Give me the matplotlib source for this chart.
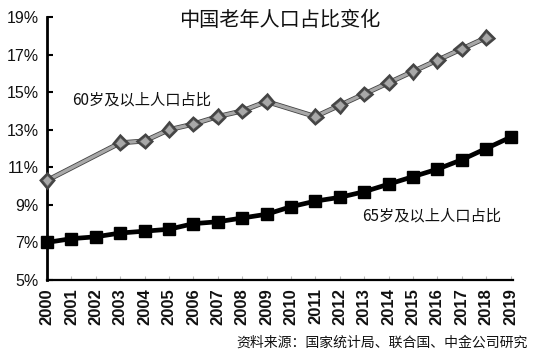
import numpy as np
import matplotlib
matplotlib.use("Agg")
import matplotlib.pyplot as plt
import matplotlib.patheffects as pe

years = list(range(2000, 2020))
share_60 = [10.3, np.nan, np.nan, 12.3, 12.4, 13.0, 13.3, 13.7, 14.0, 14.5,
            np.nan, 13.7, 14.3, 14.9, 15.5, 16.1, 16.7, 17.3, 17.9, np.nan]
share_65 = [7.0, 7.2, 7.3, 7.5, 7.6, 7.7, 8.0, 8.1, 8.3, 8.5,
            8.9, 9.2, 9.4, 9.7, 10.1, 10.5, 10.9, 11.4, 12.0, 12.6]
yticks = [5, 7, 9, 11, 13, 15, 17, 19]
title = "中国老年人口占比变化"
label_60 = "60岁及以上人口占比"
label_65 = "65岁及以上人口占比"
source = "资料来源：国家统计局、联合国、中金公司研究"

plt.rcParams['font.family'] = ['Liberation Sans', 'Noto Sans CJK SC', 'DejaVu Sans']
cjk = ['Noto Sans CJK SC', 'DejaVu Sans']

fig = plt.figure(figsize=(5.35, 3.6), dpi=100)
ax = fig.add_axes([47/535, 1-280/360, (513-47)/535, (280-17)/360])

x60 = [y for y, v in zip(years, share_60) if not np.isnan(v)]
v60 = [v for v in share_60 if not np.isnan(v)]
ax.plot(x60, v60, color='#a8a8a8', lw=2.4, marker='D', ms=5.5,
        mfc='#a8a8a8', mec='#555555', mew=0.6, zorder=3, clip_on=False,
        path_effects=[pe.Stroke(linewidth=3.6, foreground='#444444'), pe.Normal()])
ax.plot(years, share_65, color='black', lw=3.4, marker='s', ms=8.5,
        mfc='black', mec='black', zorder=4, clip_on=False)

ax.set_xlim(2000, 2019.1)
ax.set_ylim(5, 19)
ax.set_yticks(yticks)
ax.set_yticklabels([f"{t}%" for t in yticks], fontsize=11.5, color='#111111')
ax.set_xticks(years)
ax.set_xticklabels([str(y) for y in years], rotation=90, fontsize=12,
                   fontweight='bold', color='#111111')

for s in ['top', 'right']:
    ax.spines[s].set_visible(False)
ax.spines['left'].set_linewidth(2.0)
ax.spines['bottom'].set_linewidth(1.6)
ax.tick_params(axis='y', direction='in', length=4, width=1.5, pad=6)
ax.tick_params(axis='x', direction='in', length=3, width=0.8, color='#bbbbbb', pad=6)

fig.text(280/535, 1-20/360, title, ha='center', va='center', fontsize=14.5,
         family=cjk, color='#111111')
fig.text(72/535, 1-100/360, label_60, ha='left', va='center', fontsize=11,
         family=cjk, color='#111111')
fig.text(362/535, 1-216/360, label_65, ha='left', va='center', fontsize=11,
         family=cjk, color='#111111')
fig.text(528/535, 1-343/360, source, ha='right', va='center', fontsize=10,
         family=cjk, color='#111111')

fig.savefig("out.png", dpi=100, facecolor='white')
